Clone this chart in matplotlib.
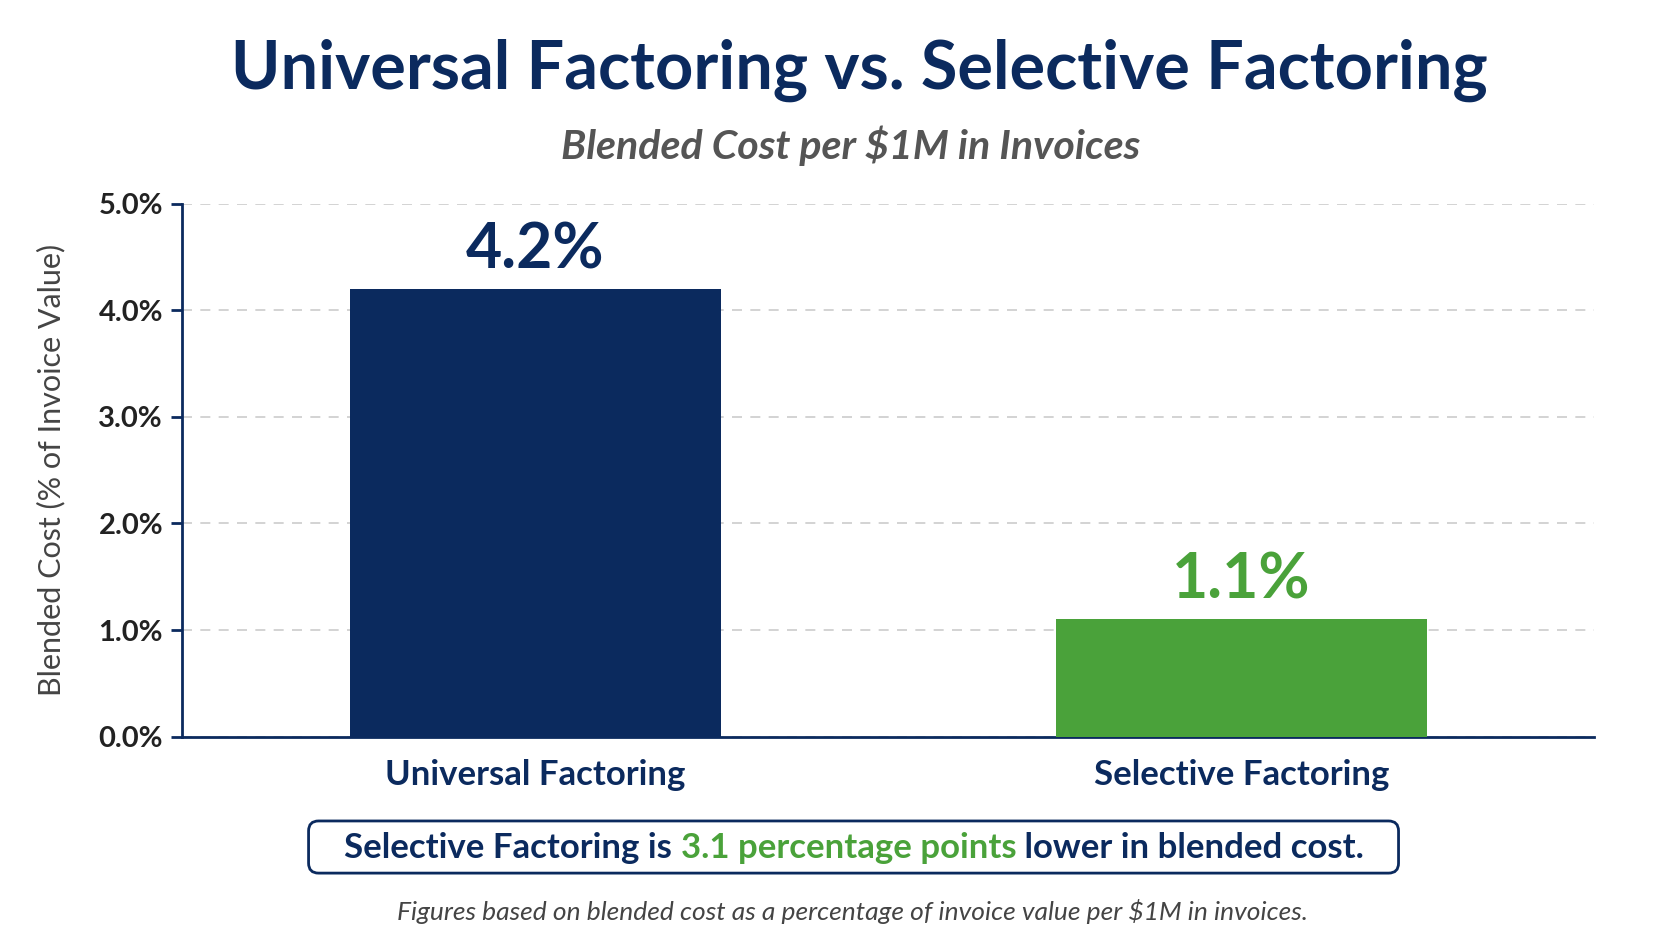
import numpy as np
import matplotlib
matplotlib.use("Agg")
import matplotlib.pyplot as plt
from matplotlib.offsetbox import TextArea, HPacker, AnchoredOffsetbox
from matplotlib.patches import FancyBboxPatch

NAVY = '#0b2a5e'
GREEN = '#4aa23a'

categories = ['Universal Factoring', 'Selective Factoring']
values = [4.2, 1.1]
value_labels = ['4.2%', '1.1%']
bar_colors = [NAVY, GREEN]
yticks = [0, 1, 2, 3, 4, 5]

plt.rcParams['font.family'] = ['Lato', 'DejaVu Sans']

W, H = 1659, 948
fig = plt.figure(figsize=(W / 100, H / 100), dpi=100)
ax = fig.add_axes([0.110, 0.223, 0.851, 0.562])

x = np.arange(len(categories))
ax.bar(x, values, width=0.525, color=bar_colors, zorder=3)
for xi, v, lab, c in zip(x, values, value_labels, bar_colors):
    ax.text(xi, v + 0.09, lab, ha='center', va='bottom', fontsize=45,
            fontweight='bold', color=c)

ax.set_xlim(-0.5, 1.5)
ax.set_ylim(0, 5)
ax.set_yticks(yticks)
ax.set_yticklabels(['%.1f%%' % t for t in yticks], fontsize=21,
                   fontweight='bold', color='#222222')
ax.set_xticks(x)
ax.set_xticklabels(categories, fontsize=25, fontweight='bold', color=NAVY)
ax.tick_params(axis='y', length=8, width=2, color=NAVY, pad=6)
ax.tick_params(axis='x', length=0, pad=16)
ax.grid(axis='y', linestyle=(0, (6, 5)), color='#cccccc', linewidth=1.2, zorder=0)
for s in ['top', 'right']:
    ax.spines[s].set_visible(False)
for s in ['left', 'bottom']:
    ax.spines[s].set_color(NAVY)
    ax.spines[s].set_linewidth(2)
ax.set_ylabel('Blended Cost (% of Invoice Value)', fontsize=22, color='#444444',
              labelpad=24)

fig.text(0.518, 0.926, 'Universal Factoring vs. Selective Factoring', ha='center',
         va='center', fontsize=48, fontweight='bold', color=NAVY)
fig.text(0.513, 0.846, 'Blended Cost per $1M in Invoices', ha='center', va='center',
         fontsize=29.6, fontstyle='italic', fontweight='bold', color='#555555')

# callout box
frame = FancyBboxPatch((0.186, 0.079), 0.657, 0.055,
                       boxstyle='round,pad=0,rounding_size=0.006',
                       mutation_aspect=W / H, transform=fig.transFigure,
                       facecolor='white', edgecolor=NAVY, linewidth=2)
fig.add_artist(frame)
parts = [('Selective Factoring is ', NAVY), ('3.1 percentage points', GREEN),
         (' lower in blended cost.', NAVY)]
areas = [TextArea(t, textprops=dict(fontsize=25, fontweight='bold', color=c))
         for t, c in parts]
box = HPacker(children=areas, align='baseline', pad=0, sep=0)
anch = AnchoredOffsetbox(loc='center', child=box, pad=0, borderpad=0,
                         frameon=False, bbox_to_anchor=(0.515, 0.106),
                         bbox_transform=fig.transFigure)
fig.add_artist(anch)

fig.text(0.514, 0.039, 'Figures based on blended cost as a percentage of invoice value per $1M in invoices.',
         ha='center', va='center', fontsize=19, fontstyle='italic', color='#444444')

fig.savefig('out.png', dpi=100)
